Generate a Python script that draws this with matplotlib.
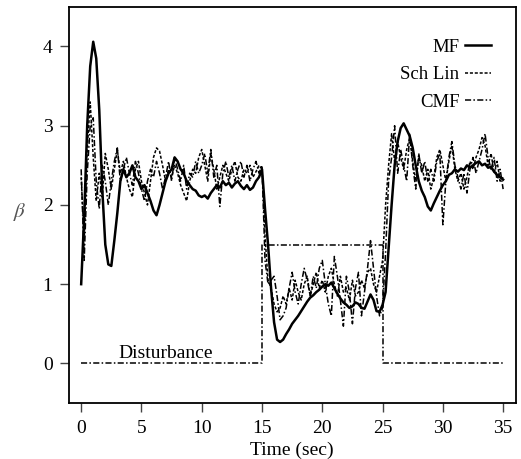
import numpy as np
import matplotlib
matplotlib.use("Agg")
import matplotlib.pyplot as plt

plt.rcParams['font.family'] = ['Liberation Serif', 'DejaVu Serif']
plt.rcParams['mathtext.fontset'] = 'stix'

# time grid (sec)
t = np.arange(0, 35.001, 0.25)

mf = [1.0, 1.85, 3.0, 3.75, 4.06, 3.85, 3.2, 2.2, 1.5, 1.25, 1.23, 1.55, 1.9, 2.3,
      2.45, 2.35, 2.4, 2.5, 2.35, 2.3, 2.2, 2.25, 2.15, 2.05, 1.93, 1.87, 2.0, 2.15,
      2.3, 2.4, 2.45, 2.6, 2.55, 2.45, 2.4, 2.3, 2.25, 2.2, 2.18, 2.12, 2.1, 2.12,
      2.08, 2.15, 2.2, 2.25, 2.22, 2.3, 2.25, 2.28, 2.22, 2.27, 2.3, 2.24, 2.2, 2.25,
      2.19, 2.22, 2.3, 2.35, 2.45, 1.95, 1.5, 0.95, 0.52, 0.3, 0.27, 0.3, 0.37, 0.43,
      0.5, 0.55, 0.6, 0.66, 0.72, 0.78, 0.83, 0.86, 0.9, 0.93, 0.97, 1.0, 0.98, 1.02,
      0.95, 0.88, 0.82, 0.77, 0.74, 0.7, 0.72, 0.77, 0.75, 0.7, 0.69, 0.78, 0.87, 0.8,
      0.66, 0.65, 0.74, 0.9, 1.45, 2.0, 2.5, 2.8, 2.97, 3.03, 2.95, 2.87, 2.72, 2.5,
      2.3, 2.18, 2.1, 1.98, 1.93, 2.02, 2.1, 2.18, 2.25, 2.3, 2.38, 2.4, 2.45, 2.42,
      2.46, 2.44, 2.5, 2.47, 2.5, 2.53, 2.55, 2.5, 2.52, 2.47, 2.48, 2.42, 2.38, 2.35,
      2.32]

sch_lin = [2.35, 1.55, 2.7, 3.3, 2.6, 2.05, 2.4, 2.1, 2.65, 2.45, 2.2, 2.45, 2.7, 2.4,
           2.55, 2.35, 2.2, 2.1, 2.45, 2.55, 2.3, 2.15, 2.0, 2.3, 2.6, 2.72, 2.68, 2.5,
           2.3, 2.45, 2.35, 2.5, 2.4, 2.25, 2.15, 2.05, 2.3, 2.45, 2.4, 2.6, 2.7, 2.5,
           2.3, 2.65, 2.45, 2.2, 2.35, 2.5, 2.4, 2.3, 2.45, 2.55, 2.35, 2.3, 2.45, 2.4,
           2.5, 2.35, 2.42, 2.5, 2.45, 1.6, 1.05, 0.95, 0.75, 0.65, 0.7, 0.85, 0.75, 0.95,
           0.8, 1.05, 0.9, 0.8, 1.0, 1.1, 0.85, 1.0, 1.15, 0.95, 1.05, 0.9, 1.1, 1.2,
           1.0, 0.85, 1.1, 0.9, 0.95, 0.8, 1.05, 0.85, 0.9, 1.05, 0.95, 1.15, 1.2, 1.0,
           0.9, 1.1, 1.3, 2.0, 2.5, 2.9, 2.55, 2.8, 2.6, 2.45, 2.7, 2.85, 2.55, 2.3,
           2.6, 2.5, 2.3, 2.45, 2.2, 2.35, 2.6, 2.7, 2.5, 2.3, 2.55, 2.75, 2.45, 2.3,
           2.4, 2.2, 2.35, 2.55, 2.45, 2.6, 2.7, 2.85, 2.75, 2.5, 2.65, 2.4, 2.55, 2.3,
           2.35]

cmf = [2.45, 1.3, 2.4, 3.0, 3.1, 2.3, 1.95, 2.5, 2.3, 2.0, 2.3, 2.55, 2.72, 2.3,
       2.45, 2.6, 2.4, 2.25, 2.55, 2.4, 2.2, 2.05, 2.3, 2.45, 2.35, 2.55, 2.4, 2.2,
       2.35, 2.55, 2.3, 2.6, 2.45, 2.3, 2.5, 2.2, 2.4, 2.35, 2.55, 2.4, 2.5, 2.65,
       2.4, 2.7, 2.35, 2.5, 1.98, 2.4, 2.55, 2.35, 2.5, 2.3, 2.45, 2.55, 2.35, 2.5,
       2.3, 2.45, 2.55, 2.4, 2.5, 1.3, 1.0, 1.05, 1.1, 0.85, 0.55, 0.6, 0.7, 0.95,
       1.15, 0.9, 0.75, 1.0, 1.2, 1.05, 0.85, 1.1, 0.95, 1.2, 1.3, 1.0, 0.75, 0.6,
       1.35, 1.1, 0.8, 0.47, 1.1, 0.9, 0.5, 0.95, 1.15, 0.6, 0.9, 1.2, 1.55, 1.2,
       0.85, 0.6, 0.7, 1.4, 2.3, 2.6, 3.0, 2.4, 2.7, 2.5, 2.3, 2.9, 2.5, 2.2,
       2.65, 2.4, 2.55, 2.3, 2.45, 2.3, 2.55, 2.65, 1.75, 2.3, 2.6, 2.8, 2.5, 2.35,
       2.2, 2.4, 2.15, 2.45, 2.6, 2.4, 2.55, 2.7, 2.9, 2.6, 2.45, 2.6, 2.3, 2.45,
       2.2]

# disturbance step
dist_t = [0, 15, 15, 25, 25, 35]
dist_v = [0, 0, 1.5, 1.5, 0, 0]

fig = plt.figure(figsize=(5.21, 4.59), dpi=100)
ax = fig.add_axes([0.1315, 0.122, 0.8585, 0.863])

l1, = ax.plot(t, mf, color='black', lw=1.8, label='MF')
l2, = ax.plot(t, sch_lin, color='black', lw=1.1, ls=(0, (2, 1.2)), label='Sch Lin')
l3, = ax.plot(t, cmf, color='black', lw=1.1, ls=(0, (4, 1.5, 1, 1.5)), label='CMF')
ax.plot(dist_t, dist_v, color='black', lw=1.1, ls=(0, (4, 1.5, 1, 1.5)))
ax.text(7, 0.02, 'Disturbance', ha='center', va='bottom', fontsize=14)

ax.set_xlim(-1.05, 36.05)
ax.set_ylim(-0.5, 4.5)
ax.set_xticks(range(0, 36, 5))
ax.set_yticks(range(0, 5))
ax.tick_params(direction='out', length=6.5, width=1, labelsize=14, color='#444444')
ax.tick_params(axis='x', pad=6)
ax.tick_params(axis='y', pad=5)
for s in ax.spines.values():
    s.set_linewidth(1.3)
ax.set_xlabel('Time (sec)', fontsize=14, labelpad=3)
fig.text(20 / 521, 1 - 212 / 459, r'$\beta$', fontsize=15, color='#555555',
         ha='center', va='center')

ax.legend(handles=[l1, l2, l3], loc='upper right', bbox_to_anchor=(0.945, 0.92),
          frameon=False, markerfirst=False, fontsize=13.5, handlelength=1.4,
          handletextpad=0.3, labelspacing=0.55, borderaxespad=0, borderpad=0)

fig.savefig('out.png', dpi=100)
